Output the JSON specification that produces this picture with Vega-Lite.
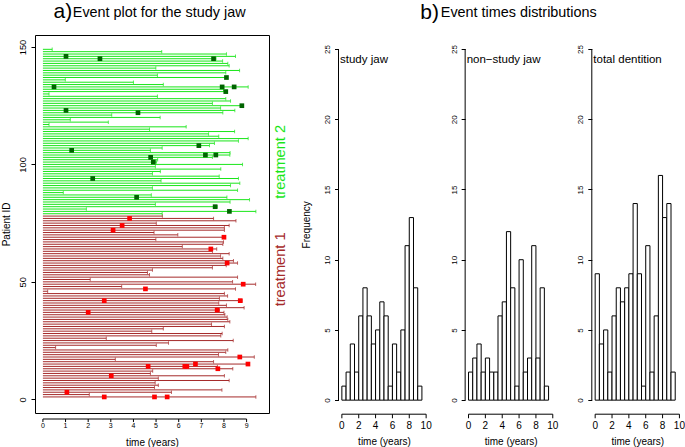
{
"$schema": "https://vega.github.io/schema/vega-lite/v6.json",
"background": "white",
"padding": {"left": 0, "top": 0, "right": 0, "bottom": 0},
"config": {
  "font": "Liberation Sans",
  "view": {"stroke": null},
  "axis": {"grid": false, "domain": false, "labelOverlap": false, "tickColor": "black", "labelColor": "black", "titleColor": "black", "labelFont": "Liberation Sans", "titleFont": "Liberation Sans", "titleFontWeight": "normal", "tickWidth": 1}
},
"datasets": {
  "ticksA": [{"v":0},{"v":1},{"v":2},{"v":3},{"v":4},{"v":5},{"v":6},{"v":7},{"v":8},{"v":9}],
  "ticksH": [{"v":0},{"v":2},{"v":4},{"v":6},{"v":8},{"v":10}],
  "subjects": [
    {"id":1,"grp":"T1","end":9.41},{"id":2,"grp":"T1","end":2.05},{"id":3,"grp":"T1","end":5.68},{"id":4,"grp":"T1","end":7.91},{"id":5,"grp":"T1","end":4.93},
    {"id":6,"grp":"T1","end":5.1},{"id":7,"grp":"T1","end":4.96},{"id":8,"grp":"T1","end":8.23},{"id":9,"grp":"T1","end":5.1},{"id":10,"grp":"T1","end":8.02},
    {"id":11,"grp":"T1","end":4.75},{"id":12,"grp":"T1","end":4.85},{"id":13,"grp":"T1","end":8.39},{"id":14,"grp":"T1","end":7.71},{"id":15,"grp":"T1","end":9.1},
    {"id":16,"grp":"T1","end":7.54},{"id":17,"grp":"T1","end":3.2},{"id":18,"grp":"T1","end":9.34},{"id":19,"grp":"T1","end":7.76},{"id":20,"grp":"T1","end":8.08},
    {"id":21,"grp":"T1","end":8.17},{"id":22,"grp":"T1","end":0.56},{"id":23,"grp":"T1","end":5.01},{"id":24,"grp":"T1","end":5.55},{"id":25,"grp":"T1","end":8.41},
    {"id":26,"grp":"T1","end":2.8},{"id":27,"grp":"T1","end":7.86},{"id":28,"grp":"T1","end":7.92},{"id":29,"grp":"T1","end":4.81},{"id":30,"grp":"T1","end":5.32},
    {"id":31,"grp":"T1","end":8.02},{"id":32,"grp":"T1","end":7.45},{"id":33,"grp":"T1","end":8.26},{"id":34,"grp":"T1","end":8.17},{"id":35,"grp":"T1","end":8.14},
    {"id":36,"grp":"T1","end":8.04},{"id":37,"grp":"T1","end":8.0},{"id":38,"grp":"T1","end":7.8},{"id":39,"grp":"T1","end":8.89},{"id":40,"grp":"T1","end":8.11},
    {"id":41,"grp":"T1","end":7.77},{"id":42,"grp":"T1","end":8.8},{"id":43,"grp":"T1","end":7.8},{"id":44,"grp":"T1","end":8.16},{"id":45,"grp":"T1","end":8.02},
    {"id":46,"grp":"T1","end":0.21},{"id":47,"grp":"T1","end":8.51},{"id":48,"grp":"T1","end":3.48},{"id":49,"grp":"T1","end":9.4},{"id":50,"grp":"T1","end":8.38},
    {"id":51,"grp":"T1","end":2.09},{"id":52,"grp":"T1","end":8.6},{"id":53,"grp":"T1","end":4.71},{"id":54,"grp":"T1","end":4.62},{"id":55,"grp":"T1","end":4.84},
    {"id":56,"grp":"T1","end":7.49},{"id":57,"grp":"T1","end":8.1},{"id":58,"grp":"T1","end":8.6},{"id":59,"grp":"T1","end":8.42},{"id":60,"grp":"T1","end":7.95},
    {"id":61,"grp":"T1","end":7.85},{"id":62,"grp":"T1","end":8.23},{"id":63,"grp":"T1","end":7.49},{"id":64,"grp":"T1","end":7.68},{"id":65,"grp":"T1","end":6.16},
    {"id":66,"grp":"T1","end":7.95},{"id":67,"grp":"T1","end":7.98},{"id":68,"grp":"T1","end":4.99},{"id":69,"grp":"T1","end":8.06},{"id":70,"grp":"T1","end":5.96},
    {"id":71,"grp":"T1","end":4.91},{"id":72,"grp":"T1","end":8.02},{"id":73,"grp":"T1","end":8.02},{"id":74,"grp":"T1","end":8.23},{"id":75,"grp":"T1","end":5.01},
    {"id":76,"grp":"T1","end":8.53},{"id":77,"grp":"T1","end":7.54},{"id":78,"grp":"T1","end":5.28},
    {"id":79,"grp":"T2","end":5.27},{"id":80,"grp":"T2","end":9.41},
    {"id":81,"grp":"T2","end":1.92},{"id":82,"grp":"T2","end":7.7},{"id":83,"grp":"T2","end":4.97},{"id":84,"grp":"T2","end":8.27},{"id":85,"grp":"T2","end":9.13},
    {"id":86,"grp":"T2","end":8.13},{"id":87,"grp":"T2","end":4.79},{"id":88,"grp":"T2","end":0.9},{"id":89,"grp":"T2","end":8.6},{"id":90,"grp":"T2","end":4.84},
    {"id":91,"grp":"T2","end":8.29},{"id":92,"grp":"T2","end":8.7},{"id":93,"grp":"T2","end":5.22},{"id":94,"grp":"T2","end":8.64},{"id":95,"grp":"T2","end":7.79},
    {"id":96,"grp":"T2","end":4.84},{"id":97,"grp":"T2","end":5.19},{"id":98,"grp":"T2","end":7.86},{"id":99,"grp":"T2","end":4.97},{"id":100,"grp":"T2","end":8.82},
    {"id":101,"grp":"T2","end":5.02},{"id":102,"grp":"T2","end":5.07},{"id":103,"grp":"T2","end":7.49},{"id":104,"grp":"T2","end":8.26},{"id":105,"grp":"T2","end":8.27},
    {"id":106,"grp":"T2","end":4.75},{"id":107,"grp":"T2","end":5.27},{"id":108,"grp":"T2","end":7.36},{"id":109,"grp":"T2","end":7.58},{"id":110,"grp":"T2","end":8.64},
    {"id":111,"grp":"T2","end":9.07},{"id":112,"grp":"T2","end":7.77},{"id":113,"grp":"T2","end":7.32},{"id":114,"grp":"T2","end":8.47},{"id":115,"grp":"T2","end":4.71},
    {"id":116,"grp":"T2","end":6.33},{"id":117,"grp":"T2","end":0.27},{"id":118,"grp":"T2","end":2.89},{"id":119,"grp":"T2","end":1.21},{"id":120,"grp":"T2","end":5.18},
    {"id":121,"grp":"T2","end":3.04},{"id":122,"grp":"T2","end":7.95},{"id":123,"grp":"T2","end":8.48},{"id":124,"grp":"T2","end":7.85},{"id":125,"grp":"T2","end":8.84},
    {"id":126,"grp":"T2","end":7.49},{"id":127,"grp":"T2","end":8.29},{"id":128,"grp":"T2","end":8.08},{"id":129,"grp":"T2","end":5.06},{"id":130,"grp":"T2","end":0.27},
    {"id":131,"grp":"T2","end":8.12},{"id":132,"grp":"T2","end":7.98},{"id":133,"grp":"T2","end":9.07},{"id":134,"grp":"T2","end":5.32},{"id":135,"grp":"T2","end":4.0},
    {"id":136,"grp":"T2","end":0.99},{"id":137,"grp":"T2","end":8.15},{"id":138,"grp":"T2","end":5.06},{"id":139,"grp":"T2","end":8.08},{"id":140,"grp":"T2","end":8.69},
    {"id":141,"grp":"T2","end":4.99},{"id":142,"grp":"T2","end":8.23},{"id":143,"grp":"T2","end":8.17},{"id":144,"grp":"T2","end":7.94},{"id":145,"grp":"T2","end":7.65},
    {"id":146,"grp":"T2","end":8.51},{"id":147,"grp":"T2","end":8.11},{"id":148,"grp":"T2","end":5.25},{"id":149,"grp":"T2","end":0.41}
  ],
  "events": [
    {"id":146,"grp":"T2","t":1.02},{"id":145,"grp":"T2","t":2.52},{"id":145,"grp":"T2","t":7.54},{"id":137,"grp":"T2","t":8.11},
    {"id":133,"grp":"T2","t":0.49},{"id":133,"grp":"T2","t":7.92},{"id":133,"grp":"T2","t":8.45},{"id":131,"grp":"T2","t":8.08},
    {"id":125,"grp":"T2","t":8.79},{"id":123,"grp":"T2","t":1.02},{"id":122,"grp":"T2","t":4.2},{"id":108,"grp":"T2","t":6.89},
    {"id":106,"grp":"T2","t":1.27},{"id":104,"grp":"T2","t":7.18},{"id":104,"grp":"T2","t":7.64},{"id":103,"grp":"T2","t":4.76},
    {"id":101,"grp":"T2","t":4.88},{"id":94,"grp":"T2","t":2.2},{"id":86,"grp":"T2","t":4.14},{"id":82,"grp":"T2","t":7.61},{"id":80,"grp":"T2","t":8.24},
    {"id":77,"grp":"T1","t":3.83},{"id":74,"grp":"T1","t":3.5},{"id":72,"grp":"T1","t":3.1},{"id":69,"grp":"T1","t":8.0},
    {"id":64,"grp":"T1","t":7.42},{"id":58,"grp":"T1","t":8.14},{"id":49,"grp":"T1","t":8.85},{"id":47,"grp":"T1","t":4.53},
    {"id":42,"grp":"T1","t":2.71},{"id":42,"grp":"T1","t":8.72},{"id":38,"grp":"T1","t":7.7},{"id":37,"grp":"T1","t":2.0},
    {"id":18,"grp":"T1","t":8.7},{"id":15,"grp":"T1","t":6.74},{"id":15,"grp":"T1","t":9.06},{"id":14,"grp":"T1","t":4.65},
    {"id":14,"grp":"T1","t":6.27},{"id":14,"grp":"T1","t":6.36},{"id":13,"grp":"T1","t":7.73},{"id":10,"grp":"T1","t":3.02},
    {"id":3,"grp":"T1","t":1.06},{"id":1,"grp":"T1","t":2.71},{"id":1,"grp":"T1","t":4.93},{"id":1,"grp":"T1","t":5.49}
  ],
  "hist": [
    {"p":"study jaw","lo":0,"hi":0.5,"n":1},{"p":"study jaw","lo":0.5,"hi":1,"n":2},{"p":"study jaw","lo":1,"hi":1.5,"n":4},{"p":"study jaw","lo":1.5,"hi":2,"n":2},
    {"p":"study jaw","lo":2,"hi":2.5,"n":6},{"p":"study jaw","lo":2.5,"hi":3,"n":8},{"p":"study jaw","lo":3,"hi":3.5,"n":6},{"p":"study jaw","lo":3.5,"hi":4,"n":4},
    {"p":"study jaw","lo":4,"hi":4.5,"n":5},{"p":"study jaw","lo":4.5,"hi":5,"n":7},{"p":"study jaw","lo":5,"hi":5.5,"n":6},{"p":"study jaw","lo":5.5,"hi":6,"n":1},
    {"p":"study jaw","lo":6,"hi":6.5,"n":4},{"p":"study jaw","lo":6.5,"hi":7,"n":2},{"p":"study jaw","lo":7,"hi":7.5,"n":5},{"p":"study jaw","lo":7.5,"hi":8,"n":11},
    {"p":"study jaw","lo":8,"hi":8.5,"n":13},{"p":"study jaw","lo":8.5,"hi":9,"n":8},{"p":"study jaw","lo":9,"hi":9.5,"n":1},
    {"p":"non-study jaw","lo":0,"hi":0.5,"n":2},{"p":"non-study jaw","lo":0.5,"hi":1,"n":3},{"p":"non-study jaw","lo":1,"hi":1.5,"n":4},{"p":"non-study jaw","lo":1.5,"hi":2,"n":2},
    {"p":"non-study jaw","lo":2,"hi":2.5,"n":3},{"p":"non-study jaw","lo":2.5,"hi":3,"n":2},{"p":"non-study jaw","lo":3,"hi":3.5,"n":2},{"p":"non-study jaw","lo":3.5,"hi":4,"n":6},
    {"p":"non-study jaw","lo":4,"hi":4.5,"n":7},{"p":"non-study jaw","lo":4.5,"hi":5,"n":12},{"p":"non-study jaw","lo":5,"hi":5.5,"n":8},{"p":"non-study jaw","lo":5.5,"hi":6,"n":1},
    {"p":"non-study jaw","lo":6,"hi":6.5,"n":10},{"p":"non-study jaw","lo":6.5,"hi":7,"n":2},{"p":"non-study jaw","lo":7,"hi":7.5,"n":3},{"p":"non-study jaw","lo":7.5,"hi":8,"n":11},
    {"p":"non-study jaw","lo":8,"hi":8.5,"n":3},{"p":"non-study jaw","lo":8.5,"hi":9,"n":8},{"p":"non-study jaw","lo":9,"hi":9.5,"n":1},
    {"p":"total dentition","lo":0,"hi":0.5,"n":9},{"p":"total dentition","lo":0.5,"hi":1,"n":4},{"p":"total dentition","lo":1,"hi":1.5,"n":5},{"p":"total dentition","lo":1.5,"hi":2,"n":2},
    {"p":"total dentition","lo":2,"hi":2.5,"n":6},{"p":"total dentition","lo":2.5,"hi":3,"n":8},{"p":"total dentition","lo":3,"hi":3.5,"n":7},{"p":"total dentition","lo":3.5,"hi":4,"n":8},
    {"p":"total dentition","lo":4,"hi":4.5,"n":9},{"p":"total dentition","lo":4.5,"hi":5,"n":14},{"p":"total dentition","lo":5,"hi":5.5,"n":9},{"p":"total dentition","lo":5.5,"hi":6,"n":1},
    {"p":"total dentition","lo":6,"hi":6.5,"n":11},{"p":"total dentition","lo":6.5,"hi":7,"n":2},{"p":"total dentition","lo":7,"hi":7.5,"n":6},{"p":"total dentition","lo":7.5,"hi":8,"n":16},
    {"p":"total dentition","lo":8,"hi":8.5,"n":13},{"p":"total dentition","lo":8.5,"hi":9,"n":14},{"p":"total dentition","lo":9,"hi":9.5,"n":2}
  ]
},
"bounds": "flush",
"spacing": 69.5,
"hconcat": [
  {
    "width": 234, "height": 378,
    "view": {"stroke": "black", "strokeWidth": 1},
    "layer": [
      {
        "data": {"name": "subjects"},
        "mark": {"type": "rule", "strokeWidth": 1},
        "encoding": {
          "x": {"field": "end", "type": "quantitative", "scale": {"domain": [-0.35, 9.99], "nice": false, "zero": false},
                "axis": {"orient": "bottom", "offset": 6, "labels": false, "ticks": false, "title": "time (years)", "titleFontSize": 10, "titleY": 26.3, "titleBaseline": "alphabetic"}},
          "x2": {"datum": 0},
          "y": {"field": "id", "type": "quantitative", "scale": {"domain": [-5.84, 155.1], "nice": false, "zero": false},
                "axis": {"values": [0,50,100,150], "labelFlush": false, "tickSize": 4, "labelAngle": 270, "labelAlign": "center", "labelBaseline": "alphabetic", "labelPadding": 6, "labelFontSize": 9.4, "title": "Patient ID", "titleFontSize": 10, "titleAngle": 270, "titleX": -26, "titleY": 188.9, "titleAlign": "center", "titleBaseline": "alphabetic"}},
          "color": {"field": "grp", "type": "nominal", "scale": {"domain": ["T1","T2"], "range": ["#a52a2a", "#19e619"]}, "legend": null}
        }
      },
      {
        "data": {"name": "subjects"},
        "mark": {"type": "tick", "orient": "vertical", "size": 3.5, "thickness": 1},
        "encoding": {
          "x": {"field": "end", "type": "quantitative"},
          "y": {"field": "id", "type": "quantitative"},
          "color": {"field": "grp", "type": "nominal", "legend": null}
        }
      },
      {
        "data": {"name": "events"},
        "transform": [{"filter": "datum.grp == 'T1'"}],
        "mark": {"type": "point", "shape": "square", "filled": true, "size": 22, "color": "#ff0000", "opacity": 1},
        "encoding": {"x": {"field": "t", "type": "quantitative"}, "y": {"field": "id", "type": "quantitative"}}
      },
      {
        "data": {"name": "events"},
        "transform": [{"filter": "datum.grp == 'T2'"}],
        "mark": {"type": "point", "shape": "square", "filled": true, "size": 22, "color": "#006400", "opacity": 1},
        "encoding": {"x": {"field": "t", "type": "quantitative"}, "y": {"field": "id", "type": "quantitative"}}
      },
      {
        "data": {"values": [{}]},
        "mark": {"type": "rule", "color": "black", "strokeWidth": 1},
        "encoding": {"x": {"datum": 0, "type": "quantitative"}, "x2": {"datum": 9}, "y": {"datum": -8.4, "type": "quantitative"}}
      },
      {
        "data": {"name": "ticksA"},
        "mark": {"type": "rule", "color": "black", "strokeWidth": 1},
        "encoding": {"x": {"field": "v", "type": "quantitative"}, "y": {"datum": -8.4, "type": "quantitative"}, "y2": {"datum": -9.7}}
      },
      {
        "data": {"name": "ticksA"},
        "mark": {"type": "text", "fontSize": 7, "align": "center", "baseline": "middle", "color": "black"},
        "encoding": {"x": {"field": "v", "type": "quantitative"}, "y": {"datum": -11.5, "type": "quantitative"}, "text": {"field": "v", "type": "quantitative"}}
      },
      {
        "data": {"values": [{}]},
        "mark": {"type": "text", "text": "a)", "fontSize": 21, "align": "left", "baseline": "alphabetic", "color": "black"},
        "encoding": {"x": {"datum": 0.47, "type": "quantitative"}, "y": {"datum": 162.2, "type": "quantitative"}}
      },
      {
        "data": {"values": [{}]},
        "mark": {"type": "text", "text": "Event plot for the study jaw", "fontSize": 14.4, "align": "left", "baseline": "alphabetic", "color": "black"},
        "encoding": {"x": {"datum": 1.32, "type": "quantitative"}, "y": {"datum": 162.9, "type": "quantitative"}}
      },
      {
        "data": {"values": [{}]},
        "mark": {"type": "text", "text": "treatment 2", "fontSize": 14.6, "angle": 270, "align": "center", "baseline": "alphabetic", "color": "#19e619"},
        "encoding": {"x": {"datum": 10.71, "type": "quantitative"}, "y": {"datum": 101.1, "type": "quantitative"}}
      },
      {
        "data": {"values": [{}]},
        "mark": {"type": "text", "text": "treatment 1", "fontSize": 14.6, "angle": 270, "align": "center", "baseline": "alphabetic", "color": "#a52a2a"},
        "encoding": {"x": {"datum": 10.71, "type": "quantitative"}, "y": {"datum": 55.3, "type": "quantitative"}}
      }
    ]
  },
  {
    "bounds": "flush",
    "spacing": 35.65,
    "hconcat": [
      {
        "width": 91, "height": 379.2,
        "layer": [
          {
            "data": {"name": "hist"},
            "transform": [{"filter": "datum.p == 'study jaw'"}],
            "mark": {"type": "bar", "fill": "white", "stroke": "black", "strokeWidth": 1},
            "encoding": {
              "x": {"field": "lo", "type": "quantitative", "scale": {"domain": [-0.4, 10.4], "nice": false, "zero": false},
                    "axis": {"labels": false, "ticks": false, "title": "time (years)", "titleFontSize": 10, "titleY": 30.6, "titleBaseline": "alphabetic"}},
              "x2": {"field": "hi"},
              "y": {"field": "n", "type": "quantitative", "scale": {"domain": [-1, 26], "nice": false, "zero": false},
                    "axis": {"values": [0,5,10,15,20,25], "labelFlush": false, "tickSize": 4, "labelAngle": 270, "labelAlign": "center", "labelBaseline": "alphabetic", "labelPadding": 5, "labelFontSize": 8, "title": "Frequency", "titleFontSize": 10, "titleAngle": 270, "titleX": -29.2, "titleY": 189.3, "titleAlign": "center", "titleBaseline": "alphabetic"}},
              "y2": {"datum": 0}
            }
          },
          {"data": {"values": [{}]}, "mark": {"type": "rule", "color": "black", "strokeWidth": 1}, "encoding": {"x": {"datum": -0.4, "type": "quantitative"}, "y": {"datum": 0, "type": "quantitative"}, "y2": {"datum": 25}}},
          {"data": {"values": [{}]}, "mark": {"type": "rule", "color": "black", "strokeWidth": 1}, "encoding": {"x": {"datum": 0, "type": "quantitative"}, "x2": {"datum": 10}, "y": {"datum": -1, "type": "quantitative"}}},
          {"data": {"name": "ticksH"}, "mark": {"type": "rule", "color": "black", "strokeWidth": 1}, "encoding": {"x": {"field": "v", "type": "quantitative"}, "y": {"datum": -1, "type": "quantitative"}, "y2": {"datum": -1.29}}},
          {"data": {"name": "ticksH"}, "mark": {"type": "text", "fontSize": 10, "align": "center", "baseline": "middle", "color": "black"}, "encoding": {"x": {"field": "v", "type": "quantitative"}, "y": {"datum": -1.82, "type": "quantitative"}, "text": {"field": "v", "type": "quantitative"}}},
          {"data": {"values": [{}]}, "mark": {"type": "text", "text": "study jaw", "fontSize": 11.5, "align": "left", "baseline": "alphabetic", "color": "black"}, "encoding": {"x": {"datum": -0.22, "type": "quantitative"}, "y": {"datum": 24, "type": "quantitative"}}},
          {"data": {"values": [{}]}, "mark": {"type": "text", "text": "b)", "fontSize": 21, "align": "left", "baseline": "alphabetic", "color": "black"}, "encoding": {"x": {"datum": 9.31, "type": "quantitative"}, "y": {"datum": 27.15, "type": "quantitative"}}},
          {"data": {"values": [{}]}, "mark": {"type": "text", "text": "Event times distributions", "fontSize": 14.4, "align": "left", "baseline": "alphabetic", "color": "black"}, "encoding": {"x": {"datum": 11.74, "type": "quantitative"}, "y": {"datum": 27.3, "type": "quantitative"}}}
        ]
      },
      {
        "width": 91, "height": 379.2,
        "layer": [
          {
            "data": {"name": "hist"},
            "transform": [{"filter": "datum.p == 'non-study jaw'"}],
            "mark": {"type": "bar", "fill": "white", "stroke": "black", "strokeWidth": 1},
            "encoding": {
              "x": {"field": "lo", "type": "quantitative", "scale": {"domain": [-0.4, 10.4], "nice": false, "zero": false},
                    "axis": {"labels": false, "ticks": false, "title": "time (years)", "titleFontSize": 10, "titleY": 30.6, "titleBaseline": "alphabetic"}},
              "x2": {"field": "hi"},
              "y": {"field": "n", "type": "quantitative", "scale": {"domain": [-1, 26], "nice": false, "zero": false},
                    "axis": {"values": [0,5,10,15,20,25], "labelFlush": false, "tickSize": 4, "labelAngle": 270, "labelAlign": "center", "labelBaseline": "alphabetic", "labelPadding": 5, "labelFontSize": 8, "title": null}},
              "y2": {"datum": 0}
            }
          },
          {"data": {"values": [{}]}, "mark": {"type": "rule", "color": "black", "strokeWidth": 1}, "encoding": {"x": {"datum": -0.4, "type": "quantitative"}, "y": {"datum": 0, "type": "quantitative"}, "y2": {"datum": 25}}},
          {"data": {"values": [{}]}, "mark": {"type": "rule", "color": "black", "strokeWidth": 1}, "encoding": {"x": {"datum": 0, "type": "quantitative"}, "x2": {"datum": 10}, "y": {"datum": -1, "type": "quantitative"}}},
          {"data": {"name": "ticksH"}, "mark": {"type": "rule", "color": "black", "strokeWidth": 1}, "encoding": {"x": {"field": "v", "type": "quantitative"}, "y": {"datum": -1, "type": "quantitative"}, "y2": {"datum": -1.29}}},
          {"data": {"name": "ticksH"}, "mark": {"type": "text", "fontSize": 10, "align": "center", "baseline": "middle", "color": "black"}, "encoding": {"x": {"field": "v", "type": "quantitative"}, "y": {"datum": -1.82, "type": "quantitative"}, "text": {"field": "v", "type": "quantitative"}}},
          {"data": {"values": [{}]}, "mark": {"type": "text", "text": "non−study jaw", "fontSize": 11.5, "align": "left", "baseline": "alphabetic", "color": "black"}, "encoding": {"x": {"datum": -0.22, "type": "quantitative"}, "y": {"datum": 24, "type": "quantitative"}}}
        ]
      },
      {
        "width": 91, "height": 379.2,
        "layer": [
          {
            "data": {"name": "hist"},
            "transform": [{"filter": "datum.p == 'total dentition'"}],
            "mark": {"type": "bar", "fill": "white", "stroke": "black", "strokeWidth": 1},
            "encoding": {
              "x": {"field": "lo", "type": "quantitative", "scale": {"domain": [-0.4, 10.4], "nice": false, "zero": false},
                    "axis": {"labels": false, "ticks": false, "title": "time (years)", "titleFontSize": 10, "titleY": 30.6, "titleBaseline": "alphabetic"}},
              "x2": {"field": "hi"},
              "y": {"field": "n", "type": "quantitative", "scale": {"domain": [-1, 26], "nice": false, "zero": false},
                    "axis": {"values": [0,5,10,15,20,25], "labelFlush": false, "tickSize": 4, "labelAngle": 270, "labelAlign": "center", "labelBaseline": "alphabetic", "labelPadding": 5, "labelFontSize": 8, "title": null}},
              "y2": {"datum": 0}
            }
          },
          {"data": {"values": [{}]}, "mark": {"type": "rule", "color": "black", "strokeWidth": 1}, "encoding": {"x": {"datum": -0.4, "type": "quantitative"}, "y": {"datum": 0, "type": "quantitative"}, "y2": {"datum": 25}}},
          {"data": {"values": [{}]}, "mark": {"type": "rule", "color": "black", "strokeWidth": 1}, "encoding": {"x": {"datum": 0, "type": "quantitative"}, "x2": {"datum": 10}, "y": {"datum": -1, "type": "quantitative"}}},
          {"data": {"name": "ticksH"}, "mark": {"type": "rule", "color": "black", "strokeWidth": 1}, "encoding": {"x": {"field": "v", "type": "quantitative"}, "y": {"datum": -1, "type": "quantitative"}, "y2": {"datum": -1.29}}},
          {"data": {"name": "ticksH"}, "mark": {"type": "text", "fontSize": 10, "align": "center", "baseline": "middle", "color": "black"}, "encoding": {"x": {"field": "v", "type": "quantitative"}, "y": {"datum": -1.82, "type": "quantitative"}, "text": {"field": "v", "type": "quantitative"}}},
          {"data": {"values": [{}]}, "mark": {"type": "text", "text": "total dentition", "fontSize": 11.5, "align": "left", "baseline": "alphabetic", "color": "black"}, "encoding": {"x": {"datum": -0.22, "type": "quantitative"}, "y": {"datum": 24, "type": "quantitative"}}}
        ]
      }
    ]
  }
]
}
